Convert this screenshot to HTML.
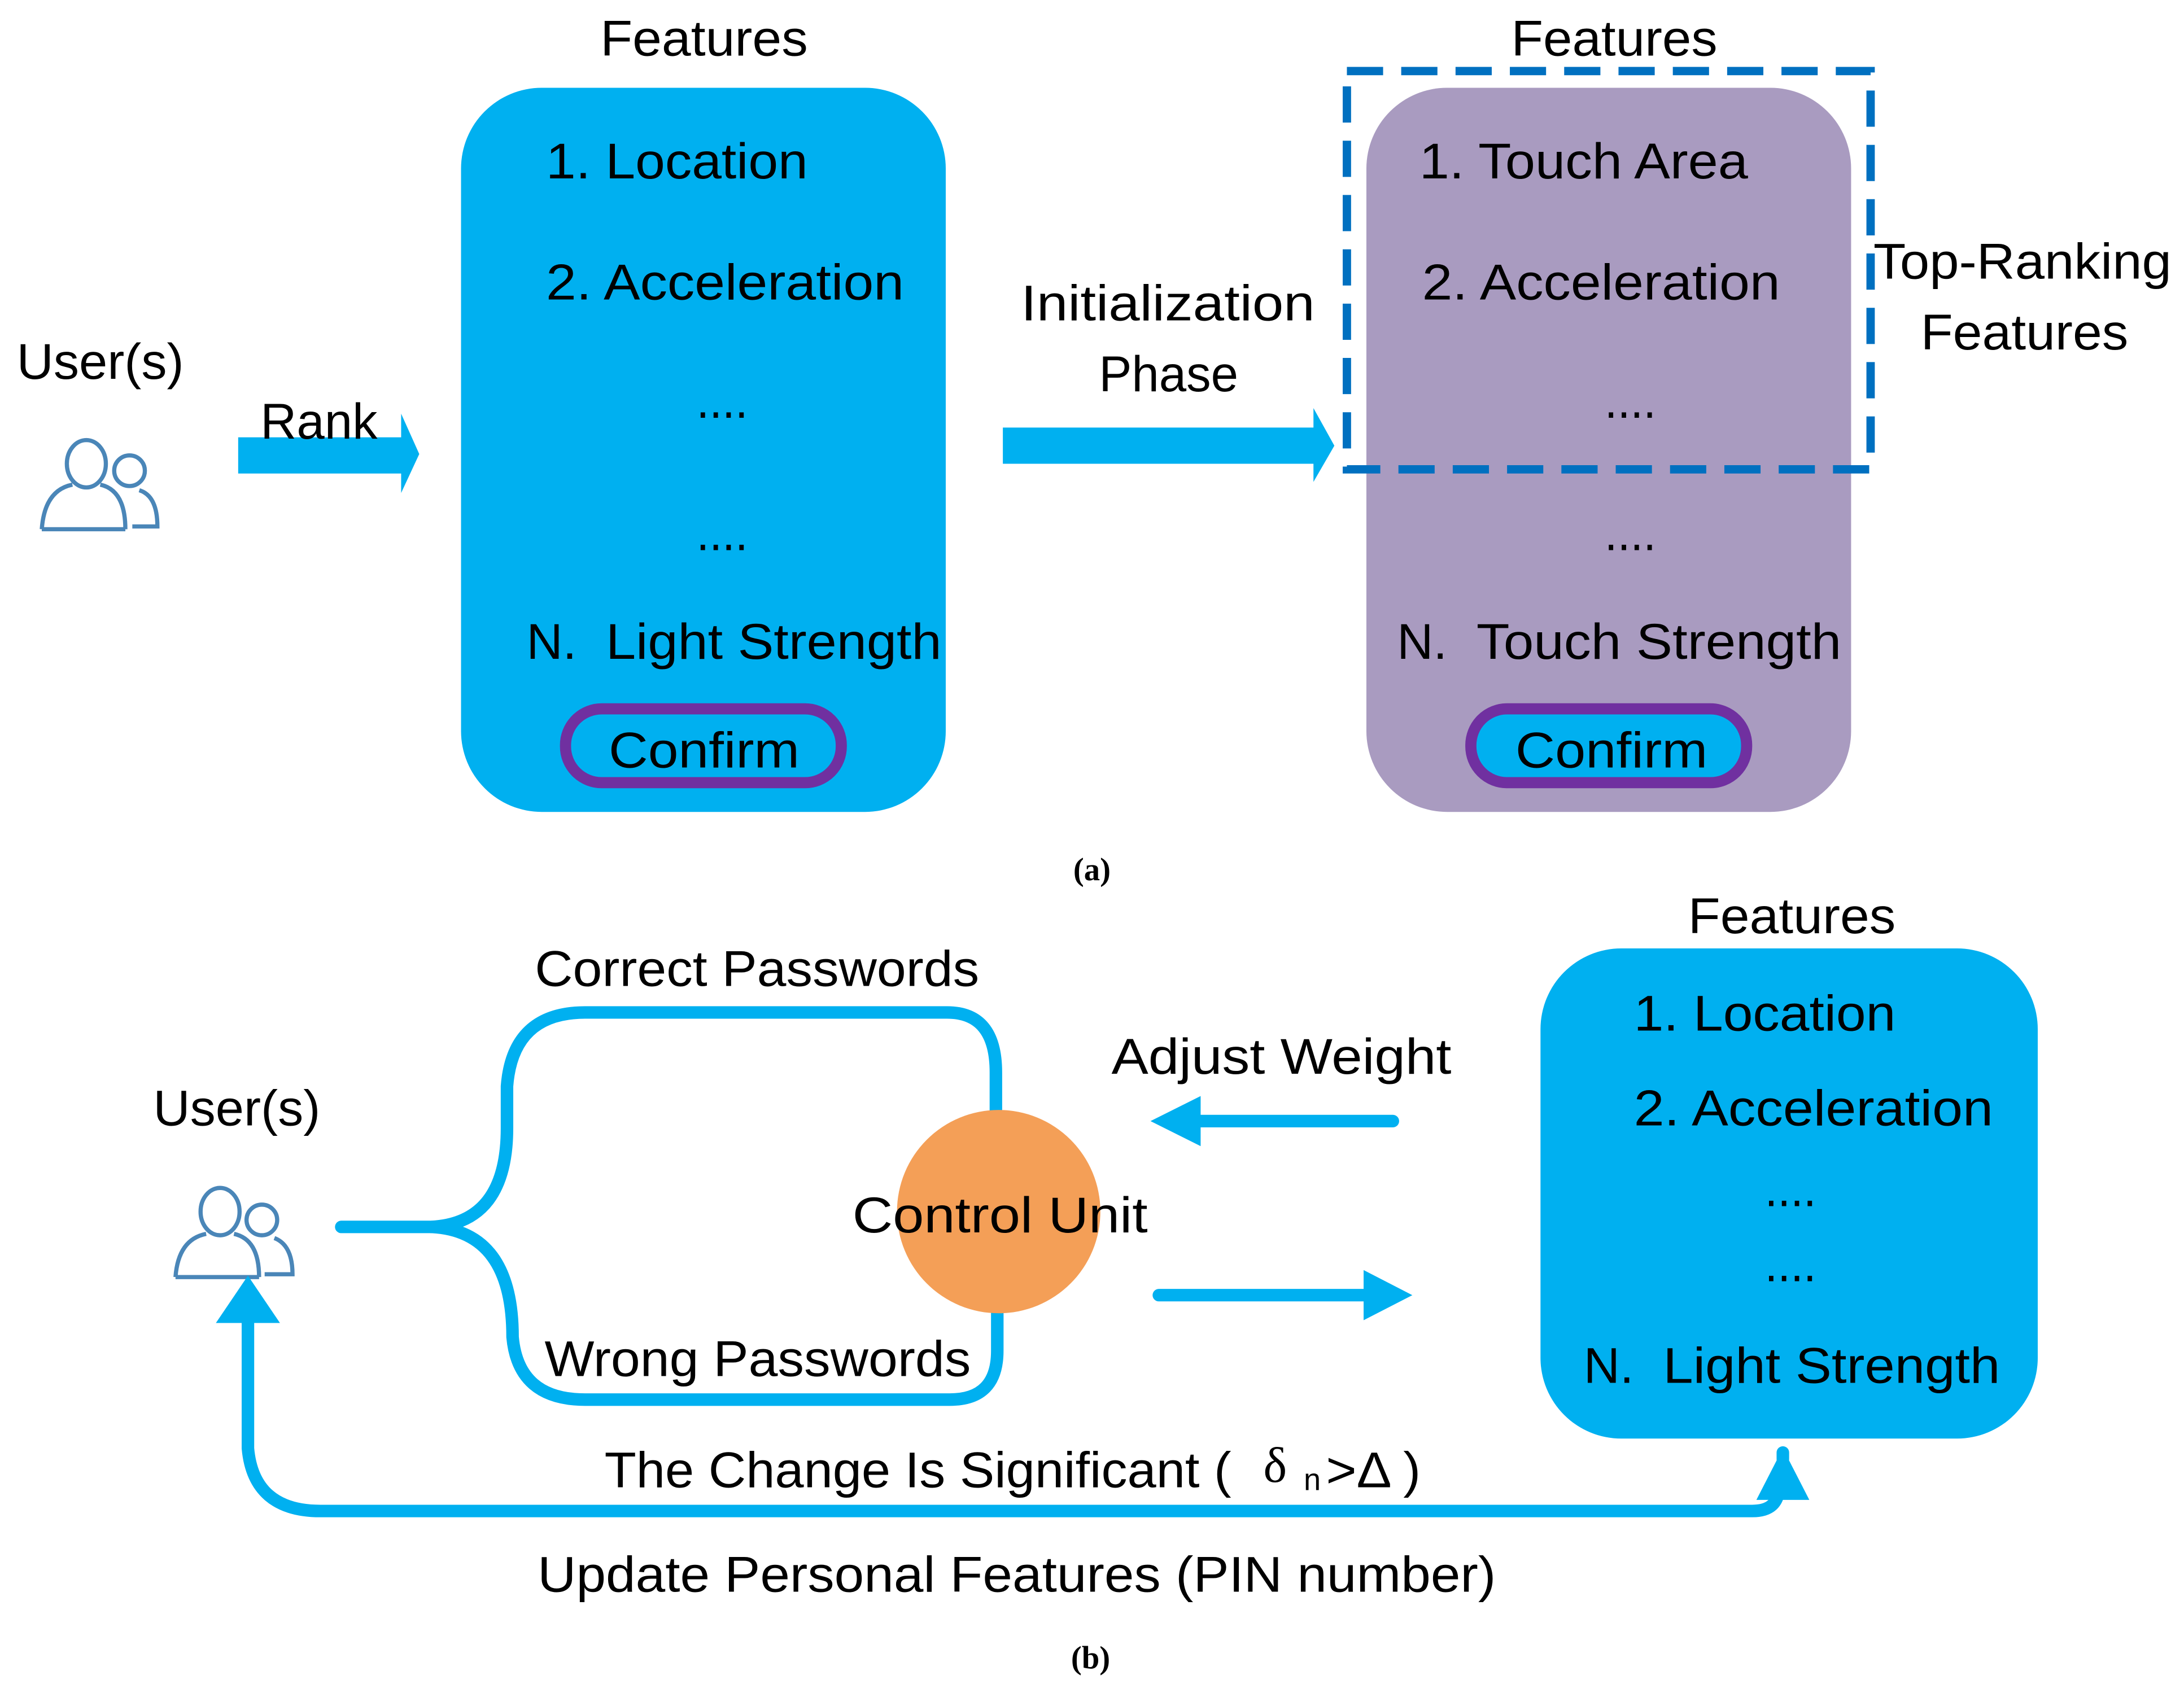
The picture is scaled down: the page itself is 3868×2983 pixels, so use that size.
<!DOCTYPE html>
<html><head><meta charset="utf-8"><style>
html,body{margin:0;padding:0;background:#fff}
svg{display:block}
text{font-family:"Liberation Sans",sans-serif;font-size:36px;fill:#000}
.s{font-family:"Liberation Serif",serif;font-size:23px;font-weight:bold}
</style></head><body>
<svg width="3868" height="2983" viewBox="0 0 1568 1209.2" xmlns="http://www.w3.org/2000/svg">
<!-- (a) -->
<text x="431" y="40" textLength="149" lengthAdjust="spacingAndGlyphs">Features</text>
<rect x="331" y="63" width="348" height="520" rx="58" fill="#00B0F0"/>
<text x="392" y="128" textLength="188" lengthAdjust="spacingAndGlyphs">1. Location</text>
<text x="392" y="215" textLength="257" lengthAdjust="spacingAndGlyphs">2. Acceleration</text>
<text x="500" y="300" textLength="37" lengthAdjust="spacingAndGlyphs">....</text>
<text x="500" y="395" textLength="37" lengthAdjust="spacingAndGlyphs">....</text>
<text x="378" y="473">N.</text>
<text x="435" y="473" textLength="241" lengthAdjust="spacingAndGlyphs">Light Strength</text>
<rect x="406" y="509" width="198" height="53" rx="26" fill="#00B0F0" stroke="#7030A0" stroke-width="8"/>
<text x="437" y="551" textLength="137" lengthAdjust="spacingAndGlyphs">Confirm</text>

<text x="12" y="272" textLength="120" lengthAdjust="spacingAndGlyphs">User(s)</text>
<g fill="none" stroke="#4A86B8" stroke-width="3">
<ellipse cx="62" cy="333" rx="14" ry="17"/>
<circle cx="93" cy="338" r="11"/>
<path d="M30 380 Q32 352 52 348 M72 348 Q90 352 90 380 M30 380 H90 M95 378 H113 Q113 356 100 352"/>
</g>
<rect x="171" y="314" width="119" height="26" fill="#00B0F0"/>
<polygon points="288,297 301,326 288,354" fill="#00B0F0"/>
<text x="187" y="315" textLength="84" lengthAdjust="spacingAndGlyphs">Rank</text>

<text x="733" y="230" textLength="211" lengthAdjust="spacingAndGlyphs">Initialization</text>
<text x="789" y="281" textLength="100" lengthAdjust="spacingAndGlyphs">Phase</text>
<rect x="720" y="307" width="225" height="26" fill="#00B0F0"/>
<polygon points="943,293 958,320 943,346" fill="#00B0F0"/>

<text x="1085" y="40" textLength="148" lengthAdjust="spacingAndGlyphs">Features</text>
<rect x="981" y="63" width="348" height="520" rx="58" fill="#A99BC0"/>
<text x="1019" y="128" textLength="236" lengthAdjust="spacingAndGlyphs">1. Touch Area</text>
<text x="1021" y="215" textLength="257" lengthAdjust="spacingAndGlyphs">2. Acceleration</text>
<text x="1152" y="300" textLength="37" lengthAdjust="spacingAndGlyphs">....</text>
<text x="1152" y="395" textLength="37" lengthAdjust="spacingAndGlyphs">....</text>
<text x="1003" y="473">N.</text>
<text x="1060" y="473" textLength="262" lengthAdjust="spacingAndGlyphs">Touch Strength</text>
<rect x="1056" y="509" width="198" height="53" rx="26" fill="#00B0F0" stroke="#7030A0" stroke-width="8"/>
<text x="1088" y="551" textLength="138" lengthAdjust="spacingAndGlyphs">Confirm</text>
<rect x="967" y="51" width="376" height="286" fill="none" stroke="#0070C0" stroke-width="6" stroke-dasharray="26 13"/>
<text x="1345" y="200" textLength="214" lengthAdjust="spacingAndGlyphs">Top-Ranking</text>
<text x="1379" y="251" textLength="149" lengthAdjust="spacingAndGlyphs">Features</text>
<text class="s" x="784" y="632" text-anchor="middle">(a)</text>

<!-- (b) -->
<text x="1212" y="670" textLength="149" lengthAdjust="spacingAndGlyphs">Features</text>
<rect x="1106" y="681" width="357" height="352" rx="58" fill="#00B0F0"/>
<text x="1173" y="740" textLength="188" lengthAdjust="spacingAndGlyphs">1. Location</text>
<text x="1173" y="808" textLength="258" lengthAdjust="spacingAndGlyphs">2. Acceleration</text>
<text x="1267" y="866" textLength="37" lengthAdjust="spacingAndGlyphs">....</text>
<text x="1267" y="920" textLength="37" lengthAdjust="spacingAndGlyphs">....</text>
<text x="1137" y="993">N.</text>
<text x="1194" y="993" textLength="242" lengthAdjust="spacingAndGlyphs">Light Strength</text>

<text x="110" y="808" textLength="120" lengthAdjust="spacingAndGlyphs">User(s)</text>
<g fill="none" stroke="#4A86B8" stroke-width="3">
<ellipse cx="158" cy="870" rx="14" ry="17"/>
<circle cx="188" cy="876" r="11"/>
<path d="M126 917 Q128 890 148 886 M168 886 Q186 890 186 917 M126 917 H186 M190 915 H210 Q210 894 197 889"/>
</g>

<g fill="none" stroke="#00B0F0" stroke-width="9" stroke-linecap="round">
<path d="M245 881 H310 Q364 878 364 810 V780 Q368 727 420 727 H680 Q715 727 715 770 V798"/>
<path d="M310 881 Q368 884 368 960 Q372 1005 420 1005 H682 Q716 1005 716 970 V940"/>
<path d="M178 948 V1040 Q182 1085 230 1085 H1258 Q1277 1085 1277 1068"/>
<path d="M1000 805 H860"/>
<path d="M832 930 H980"/>
<path d="M1280 1048 V1043"/>
</g>
<polygon points="155,950 178,916 201,950" fill="#00B0F0"/>
<polygon points="1261,1077 1280,1040 1299,1077" fill="#00B0F0"/>
<polygon points="826,805 862,787 862,823" fill="#00B0F0"/>
<polygon points="979,912 1014,930 979,948" fill="#00B0F0"/>
<circle cx="717" cy="870" r="73" fill="#F49F57"/>
<text x="612" y="885" textLength="212" lengthAdjust="spacingAndGlyphs">Control Unit</text>
<text x="384" y="708" textLength="319" lengthAdjust="spacingAndGlyphs">Correct Passwords</text>
<text x="391" y="988" textLength="306" lengthAdjust="spacingAndGlyphs">Wrong Passwords</text>
<text x="798" y="771" textLength="244" lengthAdjust="spacingAndGlyphs">Adjust Weight</text>
<text x="434" y="1068" textLength="450" lengthAdjust="spacingAndGlyphs">The Change Is Significant (</text>
<text x="907" y="1064" style="font-family:'Liberation Serif',serif">δ</text>
<text x="936" y="1070" style="font-size:22px">n</text>
<text x="952" y="1068" textLength="68" lengthAdjust="spacingAndGlyphs">&gt;Δ )</text>
<text x="386" y="1143" textLength="688" lengthAdjust="spacingAndGlyphs">Update Personal Features (PIN number)</text>
<text class="s" x="783" y="1198" text-anchor="middle">(b)</text>
</svg>
</body></html>
